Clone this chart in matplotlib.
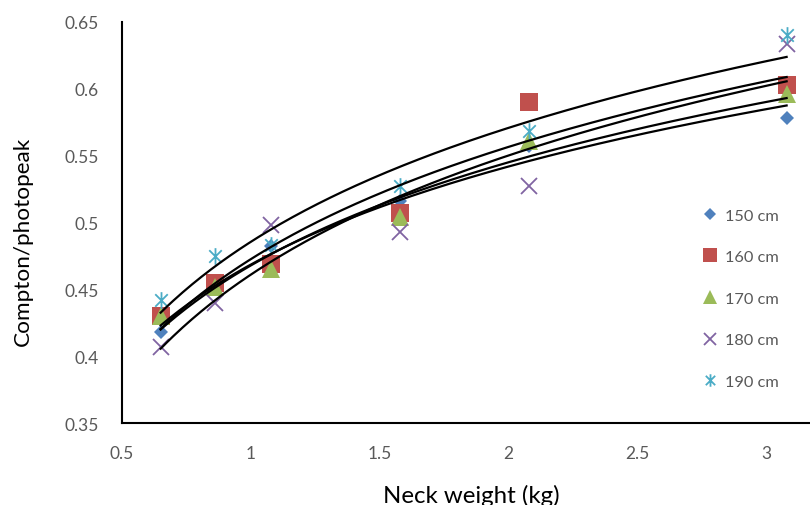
import numpy as np
import matplotlib
matplotlib.use("Agg")
import matplotlib.pyplot as plt
from matplotlib.path import Path

plt.rcParams['font.family'] = ['Lato', 'DejaVu Sans']

# ---- data ----
neck_weight = [0.65, 0.86, 1.08, 1.58, 2.08, 3.08]
series_labels = ["150 cm", "160 cm", "170 cm", "180 cm", "190 cm"]
y150 = [0.418, 0.451, 0.482, 0.516, 0.557, 0.578]
y160 = [0.430, 0.455, 0.469, 0.507, 0.590, 0.603]
y170 = [0.430, 0.452, 0.465, 0.504, 0.561, 0.596]
y180 = [0.407, 0.440, 0.498, 0.493, 0.527, 0.633]
y190 = [0.442, 0.475, 0.483, 0.527, 0.568, 0.640]
x_ticks = [0.5, 1, 1.5, 2, 2.5, 3]
y_ticks = [0.35, 0.4, 0.45, 0.5, 0.55, 0.6, 0.65]

series = [y150, y160, y170, y180, y190]

# asterisk marker (Excel "star"): vertical bar plus X
star = Path([(0, -1), (0, 1), (-0.75, -0.75), (0.75, 0.75), (-0.75, 0.75), (0.75, -0.75)],
            [Path.MOVETO, Path.LINETO, Path.MOVETO, Path.LINETO, Path.MOVETO, Path.LINETO])

styles = [
    dict(marker='D', color='#4F81BD', ms=7.5, mew=0),
    dict(marker='s', color='#C0504D', ms=12.5, mew=0),
    dict(marker='^', color='#9BBB59', ms=12.5, mew=0),
    dict(marker='x', color='#8064A2', ms=11.5, mew=1.3),
    dict(marker=star, color='#4BACC6', ms=12, mew=1.3),
]

W, H = 810, 506
fig = plt.figure(figsize=(W / 100, H / 100), dpi=100)
ax = fig.add_axes([122 / W, 1 - 424 / H, 1 - 122 / W, (424 - 22.7) / H])

x = np.array(neck_weight)
for ys, lab, st in zip(series, series_labels, styles):
    ax.plot(x, ys, linestyle='none', marker=st['marker'], color=st['color'],
            markersize=st['ms'], markeredgewidth=st['mew'], label=lab, zorder=3)

# logarithmic trendlines (Excel style)
xx = np.linspace(min(neck_weight), max(neck_weight), 200)
for ys in series:
    a, b = np.polyfit(np.log(x), np.array(ys), 1)
    ax.plot(xx, a * np.log(xx) + b, color='black', lw=1.6, zorder=4)

ax.set_xlim(0.5, 0.5 + (W - 122) / 257.6)
ax.set_ylim(0.35, 0.65)
ax.set_xticks(x_ticks)
ax.set_xticklabels([f"{v:g}" for v in x_ticks])
ax.set_yticks(y_ticks)
ax.set_yticklabels([f"{v:g}" for v in y_ticks])
ax.tick_params(length=0, labelsize=12.5, labelcolor='#595959')
ax.tick_params(axis='y', pad=17)
ax.tick_params(axis='x', pad=16)
for s in ['top', 'right']:
    ax.spines[s].set_visible(False)
for s in ['left', 'bottom']:
    ax.spines[s].set_linewidth(1.5)
    ax.spines[s].set_color('black')

fig.text(471 / W, 1 - 494 / H, "Neck weight (kg)", ha='center', va='center_baseline', fontsize=17.3, color='black')
fig.text(23 / W, 1 - 241 / H, "Compton/photopeak", ha='center', va='center', rotation=90,
         fontsize=16.2, color='black')

leg = fig.legend(loc='center left', bbox_to_anchor=(702 / W, 1 - 299.5 / H), frameon=False,
                 fontsize=11.8, labelspacing=1.65, handlelength=1.0, handletextpad=0.4,
                 borderpad=0, borderaxespad=0, markerscale=0.75, labelcolor='#595959')

fig.savefig("out.png", dpi=100)
